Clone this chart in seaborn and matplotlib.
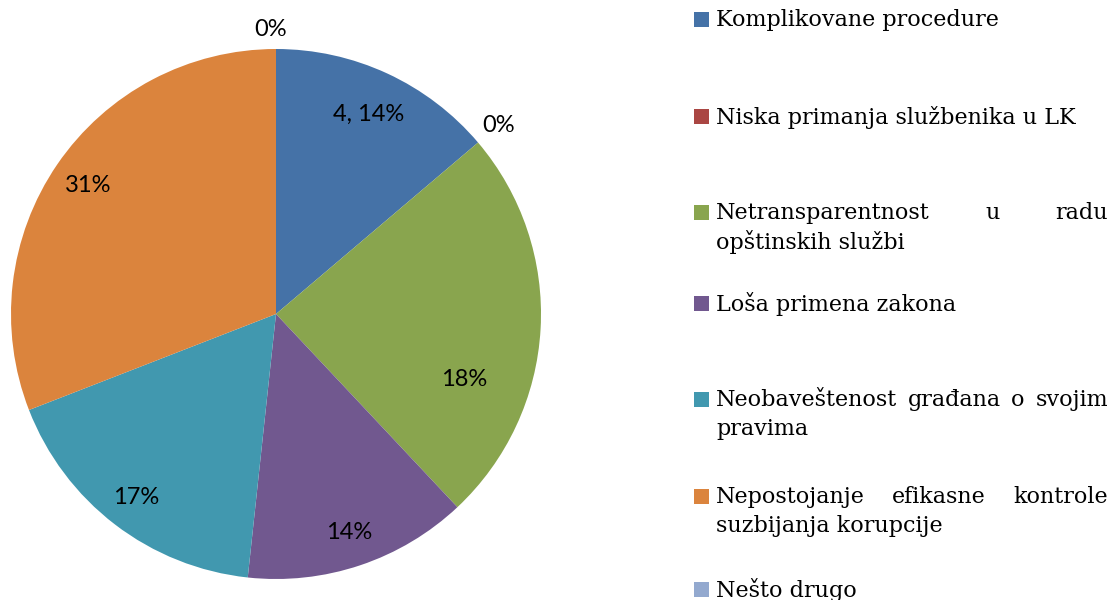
import matplotlib

matplotlib.use("Agg")
import matplotlib.pyplot as plt
import numpy as np
import seaborn as sns
from matplotlib.patches import Rectangle

# Podaci procitani sa slike (udeo u krugu, u procentima)
kategorije = [
    "Komplikovane procedure",
    "Niska primanja službenika u LK",
    "Netransparentnost u radu\nopštinskih službi",
    "Loša primena zakona",
    "Neobaveštenost građana o svojim\npravima",
    "Nepostojanje efikasne kontrole\nsuzbijanja korupcije",
    "Nešto drugo",
]
udeli = [13.8, 0, 24.2, 13.7, 17.4, 30.9, 0]
oznake = ["4, 14%", "0%", "18%", "14%", "17%", "31%", "0%"]
boje = ["#4572A7", "#AA4643", "#89A54E", "#71588F", "#4198AF", "#DB843D", "#93A9CF"]

sns.set_theme(style="white")

W, H = 1117, 600
fig = plt.figure(figsize=(W / 100, H / 100), dpi=100)


def px(x, y):
    return x / W, 1 - y / H


# Krug: centar (276, 314), poluprecnik 265 px
cx, cy, r = 276, 314, 265
ax = fig.add_axes([(cx - r) / W, (H - cy - r) / H, 2 * r / W, 2 * r / H])
klinovi, _ = ax.pie(
    udeli,
    colors=boje,
    startangle=90,
    counterclock=False,
    wedgeprops={"linewidth": 0},
)
ax.set_xlim(-1, 1)
ax.set_ylim(-1, 1)
ax.set_aspect("auto")
ax.axis("off")

# udaljenost oznaka od centra
udaljenosti = [0.83, 1.1, 0.75, 0.87, 0.87, 0.86, 1.075]
pomeraj_ugla = [0, 0, -16, 0, 0, 0, 1]
for klin, tekst, d, du in zip(klinovi, oznake, udaljenosti, pomeraj_ugla):
    ugao = np.deg2rad((klin.theta1 + klin.theta2) / 2 + du)
    ax.text(
        d * np.cos(ugao),
        d * np.sin(ugao),
        tekst,
        ha="center",
        va="center",
        fontsize=17,
        family=["Lato", "DejaVu Sans"],
        color="black",
    )

# Legenda nacrtana rucno (poravnat tekst)
leg_y = [20, 117, 213, 304, 400, 497, 590]
levo, desno = 716, 1108
razmak = 29
renderer = fig.canvas.get_renderer()
font_leg = dict(fontsize=16, family=["DejaVu Serif"], va="center", color="black")

for naziv, boja, y0 in zip(kategorije, boje, leg_y):
    fig.patches.append(
        Rectangle(px(694, y0 + 7), 15 / W, 15 / H, transform=fig.transFigure,
                  facecolor=boja, edgecolor="none")
    )
    redovi = naziv.split("\n")
    for i, red in enumerate(redovi):
        y = y0 + i * razmak
        if i < len(redovi) - 1:
            reci = red.split(" ")
            tekstovi = [fig.text(*px(levo, y), w, ha="left", **font_leg) for w in reci]
            sirine = [t.get_window_extent(renderer).width for t in tekstovi]
            praznina = (desno - levo - sum(sirine)) / (len(reci) - 1)
            x = levo
            for t, s in zip(tekstovi, sirine):
                t.set_position(px(x, y))
                x += s + praznina
        else:
            fig.text(*px(levo, y), red, ha="left", **font_leg)

fig.savefig("out.png", dpi=100)
